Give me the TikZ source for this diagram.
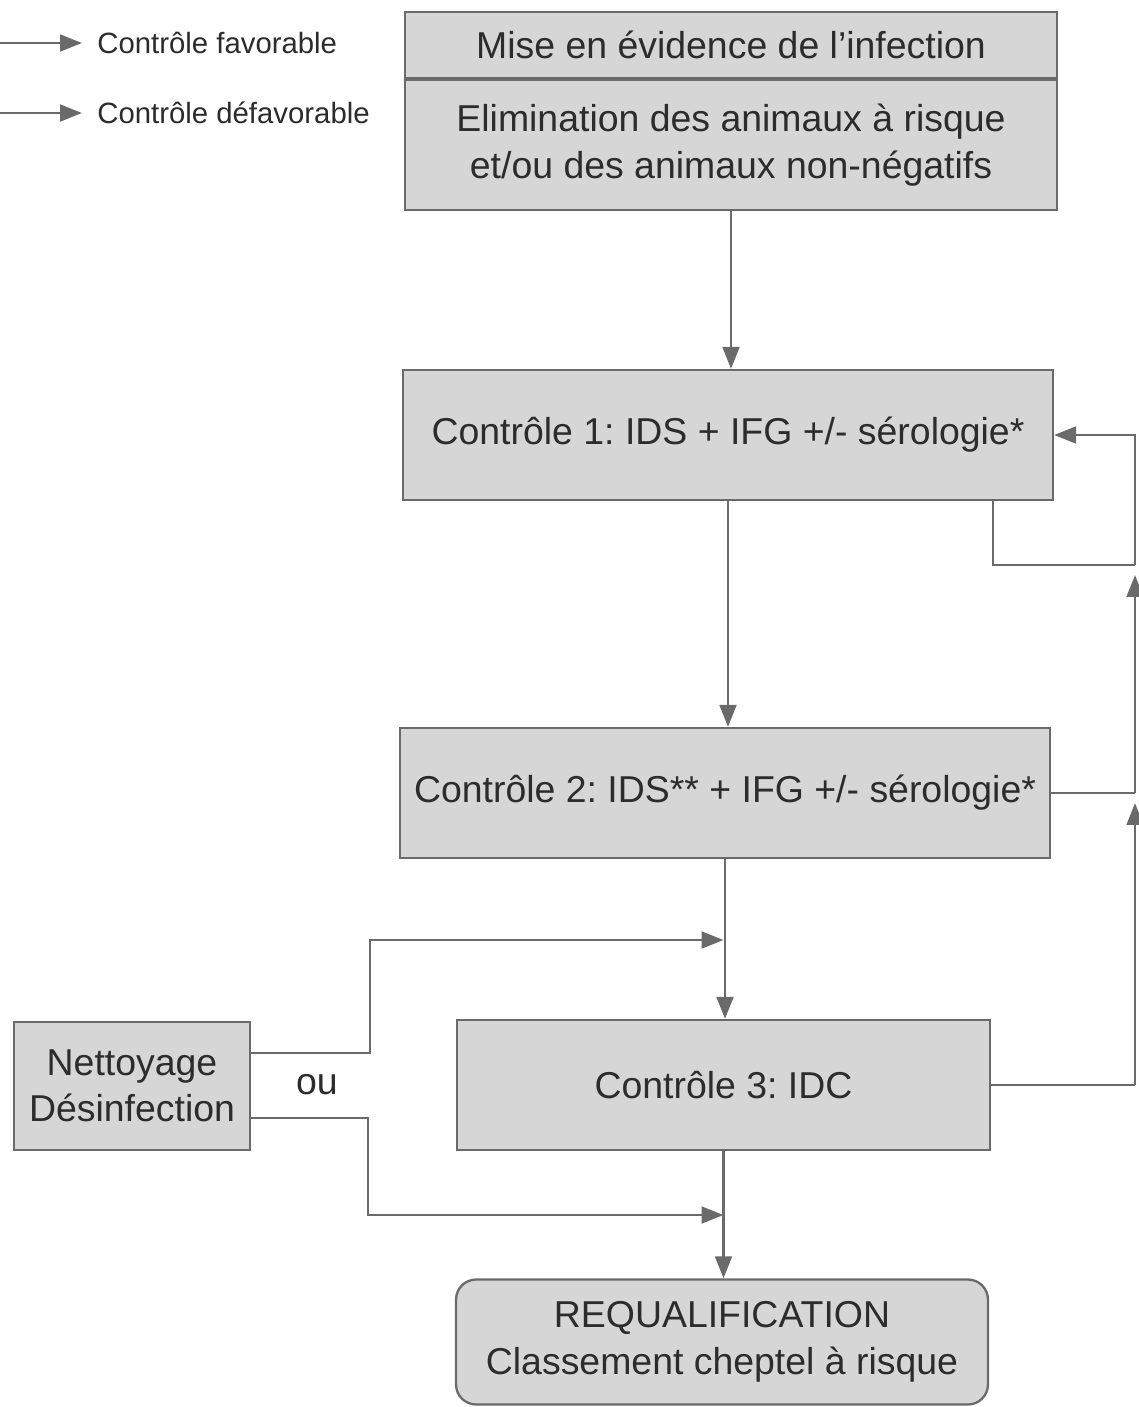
\documentclass[tikz,border=0pt]{standalone}
\usepackage{fontspec}
\setmainfont{Liberation Sans}
\usetikzlibrary{arrows.meta,positioning}
\definecolor{fondboite}{HTML}{D6D6D6}
\definecolor{bordgris}{HTML}{6A6A6A}
\definecolor{textegris}{HTML}{2C2C2C}
\frenchspacing
\begin{document}
\begin{tikzpicture}[x=0.02cm,y=-0.02cm,
		etape/.style={draw=bordgris,line width=1.3pt,fill=fondboite,text=textegris,
			align=center,inner sep=0pt,font=\fontsize{21.3}{26.5}\selectfont},
		legende/.style={text=textegris,inner sep=0pt,font=\fontsize{16.7}{20}\selectfont},
		fleche/.style={draw=bordgris,line width=1.6pt,-{Triangle[length=12.5pt,width=9.5pt]}},
		trait/.style={draw=bordgris,line width=1.6pt}]
		\useasboundingbox (0,0) rectangle (1139,1407);

		% legende
		\coordinate (fav) at (0,43);
		\coordinate (defav) at (0,113);
		\node[legende,anchor=west] (favorable) at (97,43) {Contrôle favorable};
		\node[legende,anchor=west] (defavorable) at (97,113) {Contrôle défavorable};
		\draw[fleche] (fav) -- ([xshift=-0.3cm]favorable.west);
		\draw[fleche] (defav) -- ([xshift=-0.3cm]defavorable.west);

		% etapes
		\node[etape,minimum width=13.04cm,minimum height=1.32cm] (infection) at (731,45) {Mise en évidence de l’infection};
		\node[etape,minimum width=13.04cm,minimum height=2.6cm,below=0pt of infection] (elimination) {Elimination des animaux à risque\\et/ou des animaux non-négatifs};
		\node[etape,minimum width=13cm,minimum height=2.6cm] (controle1) at (728,435) {Contrôle 1: IDS + IFG +/- sérologie*};
		\node[etape,minimum width=13cm,minimum height=2.6cm] (controle2) at (725,793) {Contrôle 2: IDS** + IFG +/- sérologie*};
		\node[etape,minimum width=10.66cm,minimum height=2.6cm] (controle3) at (723.5,1085) {Contrôle 3: IDC};
		\node[etape,minimum width=4.72cm,minimum height=2.56cm] (nettoyage) at (132,1086) {Nettoyage\\Désinfection};
		\node[etape,rounded corners=0.4cm,minimum width=10.64cm,minimum height=2.5cm] (requal) at (722,1342) {REQUALIFICATION\\Classement cheptel à risque};
		\node[legende,font=\fontsize{21.3}{26.5}\selectfont] (ou) at (317,1085) {ou};

		% suite favorable
		\draw[fleche] (elimination.south) -- (elimination.south |- controle1.north);
		\draw[fleche] (controle1.south) -- (controle1.south |- controle2.north);
		\draw[fleche] (controle2.south) -- (controle2.south |- controle3.north);
		\draw[fleche] (controle3.south) -- (controle3.south |- requal.north);

		% retour defavorable
		\coordinate (d1) at (993,565);
		\coordinate (d2) at (1135,565);
		\draw[trait] (controle1.south -| d1) -- (d1) -- (d2);
		\draw[fleche] (d2) |- (controle1.east);
		\draw[trait] (controle2.east) -- (controle2.east -| d2);
		\draw[fleche] (controle2.east -| d2) -- ([yshift=-0.2cm]d2);
		\draw[trait] (controle3.east) -- (controle3.east -| d2);
		\draw[fleche] (controle3.east -| d2) -- ([yshift=-0.2cm]controle2.east -| d2);

		% nettoyage
		\coordinate (g1) at (370,940);
		\coordinate (g2) at (368,1215);
		\draw[fleche] ([yshift=0.66cm]nettoyage.east) -| (g1) -- (g1 -| controle3.north);
		\draw[fleche] ([yshift=-0.64cm]nettoyage.east) -| (g2) -- (g2 -| controle3.south);
	\end{tikzpicture}
\end{document}
